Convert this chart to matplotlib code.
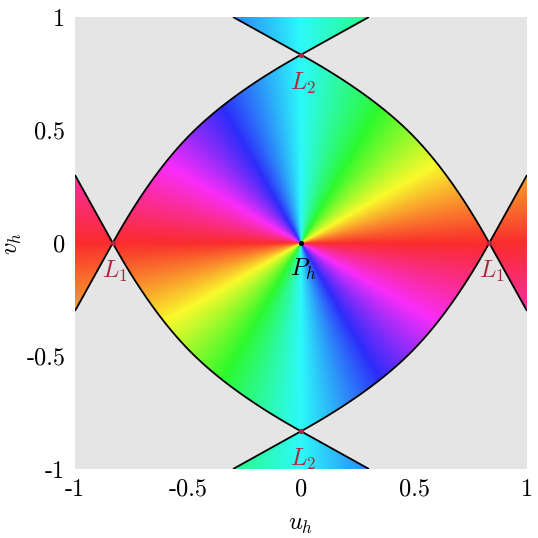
import numpy as np
import matplotlib
matplotlib.use("Agg")
import matplotlib.pyplot as plt
from matplotlib.colors import hsv_to_rgb

plt.rcParams['mathtext.fontset'] = 'cm'
plt.rcParams['axes.unicode_minus'] = False

# ---- data ----
saddle_a = 0.833                      # |position| of L1 / L2 saddles
saddle_u = [saddle_a, -saddle_a, 0.0, 0.0]
saddle_v = [0.0, 0.0, saddle_a, -saddle_a]
saddle_labels = [r'$L_1$', r'$L_1$', r'$L_2$', r'$L_2$']
center_label = r'$P_h$'
# separatrix shape: outer branch slope and lens curvature coefficients
sep_slope = 1.8
lens_c2 = 1.204
lens_c3 = -0.105
tick_vals = [-1, -0.5, 0, 0.5, 1]
tick_labels = ['-1', '-0.5', '0', '0.5', '1']

label_color = '#a8283f'
gray_bg = '#e5e5e5'
fs = 17.5

# ---- field ----
n = 1100
u = np.linspace(-1, 1, n)
v = np.linspace(-1, 1, n)
UU, VV = np.meshgrid(u, v)
Ua, Va = np.abs(UU), np.abs(VV)

def f(x):
    t = saddle_a - x
    inner = sep_slope * t - lens_c2 * t**2 - lens_c3 * t**3
    outer = sep_slope * (x - saddle_a)
    return np.where(x < saddle_a, inner, outer)

G = np.where(Ua >= Va, Va - f(Ua), Ua - f(Va))

theta = np.arctan2(VV, UU)
hue = np.mod(2 * theta, 2 * np.pi) / (2 * np.pi)
hsv = np.stack([hue, np.full_like(hue, 0.82), np.full_like(hue, 0.98)], axis=-1)
rgb = hsv_to_rgb(hsv)
gray = np.array(matplotlib.colors.to_rgb(gray_bg))
rgb[G > 0] = gray

fig = plt.figure(figsize=(5.38, 5.38), dpi=100)
ax = fig.add_axes([75/538, 69/538, 452/538, 452/538])
ax.imshow(rgb, extent=[-1, 1, -1, 1], origin='lower', interpolation='bilinear', zorder=0)
ax.contour(UU, VV, G, levels=[0], colors='k', linewidths=1.3, zorder=2)

ax.scatter(saddle_u, saddle_v, s=14, color=label_color, zorder=3, linewidths=0)
ax.scatter([0], [0], s=14, color='k', zorder=3, linewidths=0)
for su, sv, lab in zip(saddle_u, saddle_v, saddle_labels):
    ax.text(su + 0.01, sv - 0.125, lab, color=label_color, fontsize=fs,
            ha='center', va='center', zorder=4)
ax.text(0.01, -0.115, center_label, color='k', fontsize=fs, ha='center', va='center', zorder=4)

ax.set_xlim(-1, 1)
ax.set_ylim(-1, 1)
ax.set_xticks(tick_vals)
ax.set_yticks(tick_vals)
ax.set_xticklabels(tick_labels, fontfamily='cmr10', fontsize=fs)
ax.set_yticklabels(tick_labels, fontfamily='cmr10', fontsize=fs)
ax.tick_params(length=0, pad=7)
for s in ax.spines.values():
    s.set_visible(False)
ax.set_xlabel(r'$u_h$', fontsize=fs, labelpad=8)
ax.set_ylabel(r'$v_h$', fontsize=fs)
ax.yaxis.set_label_coords(-0.112, 0.5)

fig.savefig('out.png', dpi=100)
